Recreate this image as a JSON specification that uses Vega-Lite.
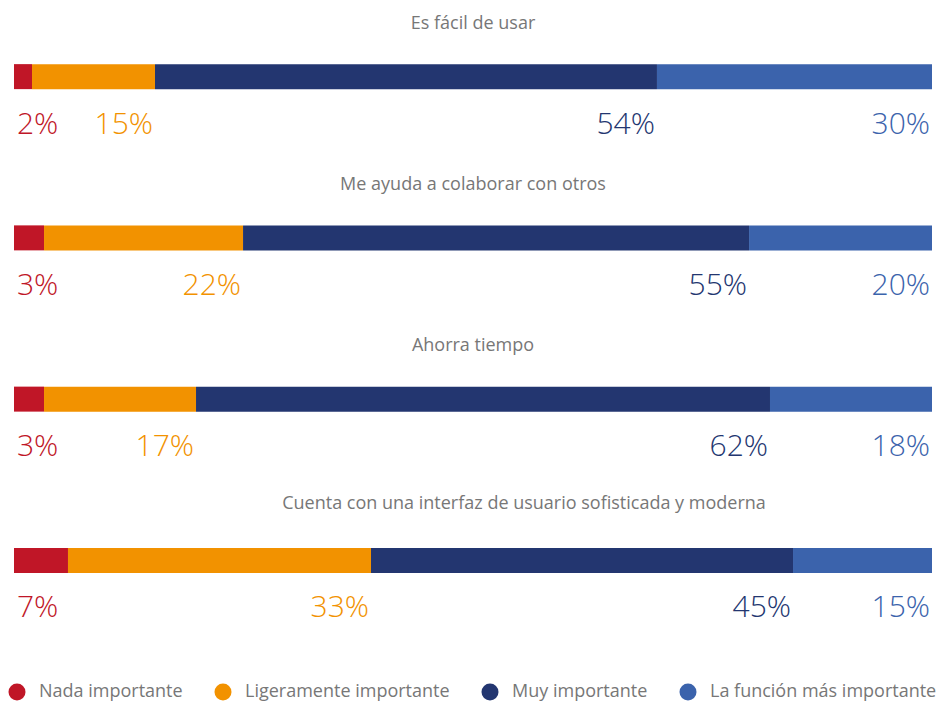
{
  "$schema": "https://vega.github.io/schema/vega-lite/v6.json",
  "width": 918,
  "height": 645,
  "autosize": {"type": "none"},
  "padding": {"left": 14, "top": 0, "right": 6, "bottom": 59},
  "background": "white",
  "config": {"view": {"stroke": null}, "font": "Open Sans"},
  "data": {
    "values": [
      {"question": "Es fácil de usar", "category": "Nada importante", "k": 1, "value": 1.96, "pct": "2%"},
      {"question": "Es fácil de usar", "category": "Ligeramente importante", "k": 2, "value": 13.4, "pct": "15%"},
      {"question": "Es fácil de usar", "category": "Muy importante", "k": 3, "value": 54.68, "pct": "54%"},
      {"question": "Es fácil de usar", "category": "La función más importante", "k": 4, "value": 29.96, "pct": "30%"},
      {"question": "Me ayuda a colaborar con otros", "category": "Nada importante", "k": 1, "value": 3.27, "pct": "3%"},
      {"question": "Me ayuda a colaborar con otros", "category": "Ligeramente importante", "k": 2, "value": 21.68, "pct": "22%"},
      {"question": "Me ayuda a colaborar con otros", "category": "Muy importante", "k": 3, "value": 55.12, "pct": "55%"},
      {"question": "Me ayuda a colaborar con otros", "category": "La función más importante", "k": 4, "value": 19.93, "pct": "20%"},
      {"question": "Ahorra tiempo", "category": "Nada importante", "k": 1, "value": 3.27, "pct": "3%"},
      {"question": "Ahorra tiempo", "category": "Ligeramente importante", "k": 2, "value": 16.56, "pct": "17%"},
      {"question": "Ahorra tiempo", "category": "Muy importante", "k": 3, "value": 62.53, "pct": "62%"},
      {"question": "Ahorra tiempo", "category": "La función más importante", "k": 4, "value": 17.65, "pct": "18%"},
      {"question": "Cuenta con una interfaz de usuario sofisticada y moderna", "category": "Nada importante", "k": 1, "value": 5.88, "pct": "7%"},
      {"question": "Cuenta con una interfaz de usuario sofisticada y moderna", "category": "Ligeramente importante", "k": 2, "value": 33.01, "pct": "33%"},
      {"question": "Cuenta con una interfaz de usuario sofisticada y moderna", "category": "Muy importante", "k": 3, "value": 45.97, "pct": "45%"},
      {"question": "Cuenta con una interfaz de usuario sofisticada y moderna", "category": "La función más importante", "k": 4, "value": 15.14, "pct": "15%"}
    ]
  },
  "transform": [
    {"stack": "value", "groupby": ["question"], "sort": [{"field": "k", "order": "ascending"}], "as": ["x0", "x1"], "offset": "normalize"}
  ],
  "encoding": {
    "y": {
      "field": "question", "type": "nominal", "sort": null, "axis": null,
      "scale": {"paddingInner": 0, "paddingOuter": 0}
    }
  },
  "layer": [
    {
      "mark": {"type": "bar", "height": 25, "yOffset": -4},
      "encoding": {
        "x": {"field": "x0", "type": "quantitative", "axis": null, "scale": {"domain": [0, 1], "nice": false, "zero": false}},
        "x2": {"field": "x1"},
        "color": {
          "field": "category", "type": "nominal",
          "scale": {
            "domain": ["Nada importante", "Ligeramente importante", "Muy importante", "La función más importante"],
            "range": ["#c01627", "#f29200", "#233670", "#3b63ac"]
          },
          "legend": {
            "title": null, "orient": "none", "direction": "horizontal",
            "legendX": -6, "legendY": 683,
            "symbolType": "circle", "symbolSize": 289, "symbolStrokeWidth": 0, "symbolOpacity": 1,
            "labelFont": "Open Sans", "labelFontSize": 18, "labelColor": "#777777", "labelOffset": 13,
            "columnPadding": 31, "labelLimit": 400
          }
        }
      }
    },
    {
      "transform": [{"filter": "datum.k == 1 && datum.question != 'Cuenta con una interfaz de usuario sofisticada y moderna'"}],
      "mark": {"type": "text", "align": "center", "baseline": "middle", "yOffset": -57, "fontSize": 18, "color": "#777777", "font": "Open Sans"},
      "encoding": {
        "x": {"datum": 0.5, "type": "quantitative"},
        "text": {"field": "question"}
      }
    },
    {
      "transform": [{"filter": "datum.k == 1 && datum.question == 'Cuenta con una interfaz de usuario sofisticada y moderna'"}],
      "mark": {"type": "text", "align": "center", "baseline": "middle", "yOffset": -60, "dx": 51, "fontSize": 18, "color": "#777777", "font": "Open Sans"},
      "encoding": {
        "x": {"datum": 0.5, "type": "quantitative"},
        "text": {"field": "question"}
      }
    },
    {
      "transform": [{"filter": "datum.k == 1"}],
      "mark": {"type": "text", "align": "left", "baseline": "middle", "yOffset": 44, "dx": 3, "fontSize": 30, "fontWeight": 300, "font": "Open Sans"},
      "encoding": {
        "x": {"field": "x0", "type": "quantitative"},
        "text": {"field": "pct"},
        "color": {"field": "category", "type": "nominal"}
      }
    },
    {
      "transform": [{"filter": "datum.k > 1"}],
      "mark": {"type": "text", "align": "right", "baseline": "middle", "yOffset": 44, "dx": -2, "fontSize": 30, "fontWeight": 300, "font": "Open Sans"},
      "encoding": {
        "x": {"field": "x1", "type": "quantitative"},
        "text": {"field": "pct"},
        "color": {"field": "category", "type": "nominal"}
      }
    }
  ]
}
